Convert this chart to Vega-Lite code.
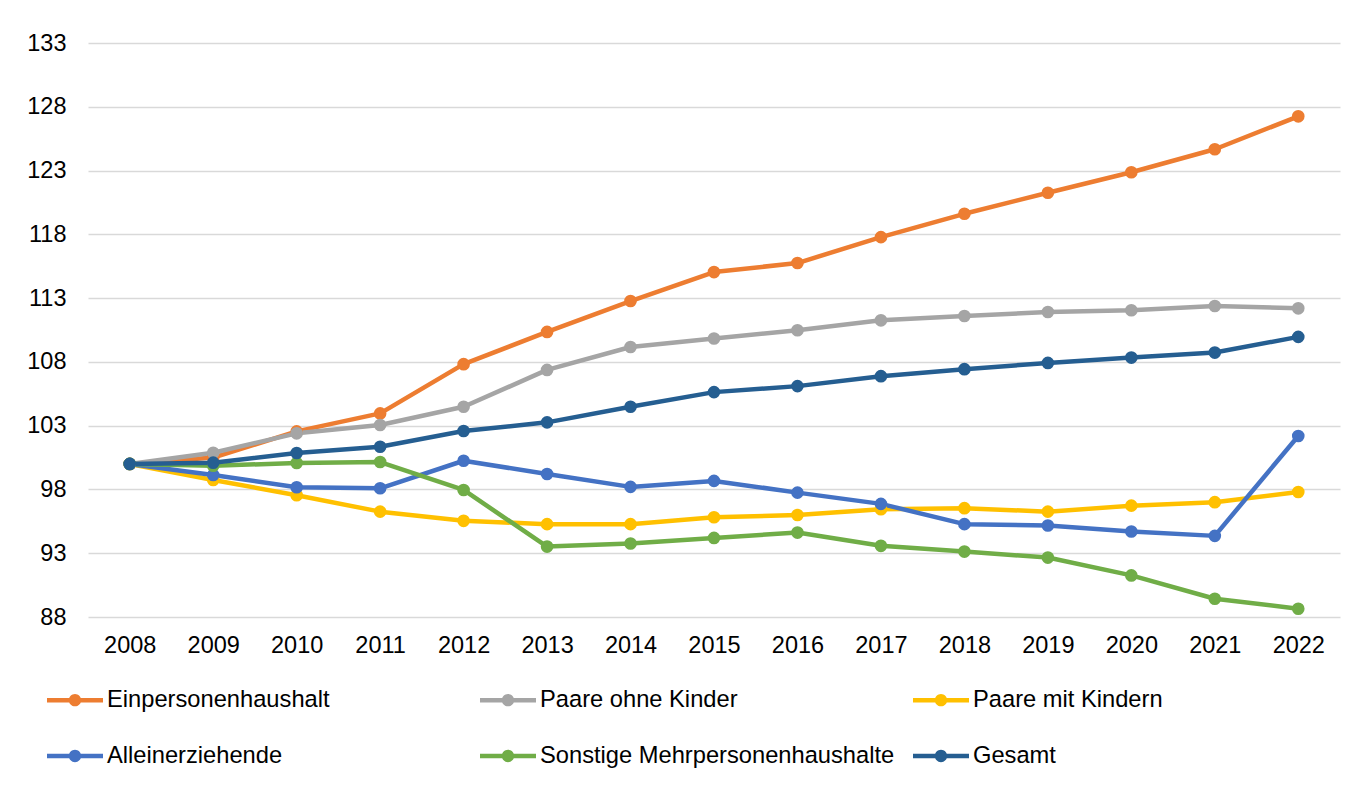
{
  "$schema": "https://vega.github.io/schema/vega-lite/v6.json",
  "width": 1252,
  "height": 574,
  "autosize": {"type": "none"},
  "padding": {"left": 88, "top": 43, "right": 18, "bottom": 182},
  "background": "white",
  "config": {
    "view": {"stroke": null},
    "font": "Liberation Sans"
  },
  "data": {
    "values": [
      {"year": "2008", "series": "Einpersonenhaushalt", "value": 100.0},
      {"year": "2009", "series": "Einpersonenhaushalt", "value": 100.5},
      {"year": "2010", "series": "Einpersonenhaushalt", "value": 102.55},
      {"year": "2011", "series": "Einpersonenhaushalt", "value": 103.96},
      {"year": "2012", "series": "Einpersonenhaushalt", "value": 107.82},
      {"year": "2013", "series": "Einpersonenhaushalt", "value": 110.35},
      {"year": "2014", "series": "Einpersonenhaushalt", "value": 112.77},
      {"year": "2015", "series": "Einpersonenhaushalt", "value": 115.04},
      {"year": "2016", "series": "Einpersonenhaushalt", "value": 115.75},
      {"year": "2017", "series": "Einpersonenhaushalt", "value": 117.78},
      {"year": "2018", "series": "Einpersonenhaushalt", "value": 119.61},
      {"year": "2019", "series": "Einpersonenhaushalt", "value": 121.26},
      {"year": "2020", "series": "Einpersonenhaushalt", "value": 122.87},
      {"year": "2021", "series": "Einpersonenhaushalt", "value": 124.67},
      {"year": "2022", "series": "Einpersonenhaushalt", "value": 127.25},
      {"year": "2008", "series": "Paare ohne Kinder", "value": 100.0},
      {"year": "2009", "series": "Paare ohne Kinder", "value": 100.88},
      {"year": "2010", "series": "Paare ohne Kinder", "value": 102.4},
      {"year": "2011", "series": "Paare ohne Kinder", "value": 103.05},
      {"year": "2012", "series": "Paare ohne Kinder", "value": 104.48},
      {"year": "2013", "series": "Paare ohne Kinder", "value": 107.37},
      {"year": "2014", "series": "Paare ohne Kinder", "value": 109.17},
      {"year": "2015", "series": "Paare ohne Kinder", "value": 109.83},
      {"year": "2016", "series": "Paare ohne Kinder", "value": 110.48},
      {"year": "2017", "series": "Paare ohne Kinder", "value": 111.26},
      {"year": "2018", "series": "Paare ohne Kinder", "value": 111.6},
      {"year": "2019", "series": "Paare ohne Kinder", "value": 111.91},
      {"year": "2020", "series": "Paare ohne Kinder", "value": 112.05},
      {"year": "2021", "series": "Paare ohne Kinder", "value": 112.38},
      {"year": "2022", "series": "Paare ohne Kinder", "value": 112.2},
      {"year": "2008", "series": "Paare mit Kindern", "value": 100.0},
      {"year": "2009", "series": "Paare mit Kindern", "value": 98.74},
      {"year": "2010", "series": "Paare mit Kindern", "value": 97.55},
      {"year": "2011", "series": "Paare mit Kindern", "value": 96.26},
      {"year": "2012", "series": "Paare mit Kindern", "value": 95.54},
      {"year": "2013", "series": "Paare mit Kindern", "value": 95.28},
      {"year": "2014", "series": "Paare mit Kindern", "value": 95.28},
      {"year": "2015", "series": "Paare mit Kindern", "value": 95.82},
      {"year": "2016", "series": "Paare mit Kindern", "value": 96.0},
      {"year": "2017", "series": "Paare mit Kindern", "value": 96.45},
      {"year": "2018", "series": "Paare mit Kindern", "value": 96.53},
      {"year": "2019", "series": "Paare mit Kindern", "value": 96.26},
      {"year": "2020", "series": "Paare mit Kindern", "value": 96.73},
      {"year": "2021", "series": "Paare mit Kindern", "value": 97.0},
      {"year": "2022", "series": "Paare mit Kindern", "value": 97.8},
      {"year": "2008", "series": "Alleinerziehende", "value": 100.0},
      {"year": "2009", "series": "Alleinerziehende", "value": 99.13},
      {"year": "2010", "series": "Alleinerziehende", "value": 98.17},
      {"year": "2011", "series": "Alleinerziehende", "value": 98.09},
      {"year": "2012", "series": "Alleinerziehende", "value": 100.25},
      {"year": "2013", "series": "Alleinerziehende", "value": 99.21},
      {"year": "2014", "series": "Alleinerziehende", "value": 98.2},
      {"year": "2015", "series": "Alleinerziehende", "value": 98.67},
      {"year": "2016", "series": "Alleinerziehende", "value": 97.75},
      {"year": "2017", "series": "Alleinerziehende", "value": 96.87},
      {"year": "2018", "series": "Alleinerziehende", "value": 95.28},
      {"year": "2019", "series": "Alleinerziehende", "value": 95.17},
      {"year": "2020", "series": "Alleinerziehende", "value": 94.7},
      {"year": "2021", "series": "Alleinerziehende", "value": 94.36},
      {"year": "2022", "series": "Alleinerziehende", "value": 102.19},
      {"year": "2008", "series": "Sonstige Mehrpersonenhaushalte", "value": 100.0},
      {"year": "2009", "series": "Sonstige Mehrpersonenhaushalte", "value": 99.86},
      {"year": "2010", "series": "Sonstige Mehrpersonenhaushalte", "value": 100.07},
      {"year": "2011", "series": "Sonstige Mehrpersonenhaushalte", "value": 100.15},
      {"year": "2012", "series": "Sonstige Mehrpersonenhaushalte", "value": 97.96},
      {"year": "2013", "series": "Sonstige Mehrpersonenhaushalte", "value": 93.52},
      {"year": "2014", "series": "Sonstige Mehrpersonenhaushalte", "value": 93.76},
      {"year": "2015", "series": "Sonstige Mehrpersonenhaushalte", "value": 94.2},
      {"year": "2016", "series": "Sonstige Mehrpersonenhaushalte", "value": 94.62},
      {"year": "2017", "series": "Sonstige Mehrpersonenhaushalte", "value": 93.58},
      {"year": "2018", "series": "Sonstige Mehrpersonenhaushalte", "value": 93.13},
      {"year": "2019", "series": "Sonstige Mehrpersonenhaushalte", "value": 92.66},
      {"year": "2020", "series": "Sonstige Mehrpersonenhaushalte", "value": 91.26},
      {"year": "2021", "series": "Sonstige Mehrpersonenhaushalte", "value": 89.43},
      {"year": "2022", "series": "Sonstige Mehrpersonenhaushalte", "value": 88.65},
      {"year": "2008", "series": "Gesamt", "value": 100.0},
      {"year": "2009", "series": "Gesamt", "value": 100.1},
      {"year": "2010", "series": "Gesamt", "value": 100.86},
      {"year": "2011", "series": "Gesamt", "value": 101.35},
      {"year": "2012", "series": "Gesamt", "value": 102.58},
      {"year": "2013", "series": "Gesamt", "value": 103.26},
      {"year": "2014", "series": "Gesamt", "value": 104.48},
      {"year": "2015", "series": "Gesamt", "value": 105.63},
      {"year": "2016", "series": "Gesamt", "value": 106.1},
      {"year": "2017", "series": "Gesamt", "value": 106.88},
      {"year": "2018", "series": "Gesamt", "value": 107.43},
      {"year": "2019", "series": "Gesamt", "value": 107.92},
      {"year": "2020", "series": "Gesamt", "value": 108.34},
      {"year": "2021", "series": "Gesamt", "value": 108.73},
      {"year": "2022", "series": "Gesamt", "value": 109.96}
    ]
  },
  "encoding": {
    "x": {
      "field": "year",
      "type": "ordinal",
      "scale": {"type": "point", "padding": 0.5},
      "axis": {
        "title": null,
        "labelAngle": 0,
        "labelFontSize": 23.5,
        "labelColor": "#000000",
        "labelPadding": 16,
        "labelBaseline": "top",
        "ticks": false,
        "domain": false,
        "grid": false
      }
    },
    "y": {
      "field": "value",
      "type": "quantitative",
      "scale": {"domain": [88, 133], "nice": false, "zero": false},
      "axis": {
        "title": null,
        "values": [88, 93, 98, 103, 108, 113, 118, 123, 128, 133],
        "labelFontSize": 23.5,
        "labelColor": "#000000",
        "labelPadding": 22,
        "ticks": false,
        "domain": false,
        "grid": true,
        "gridColor": "#d9d9d9",
        "gridWidth": 1.3
      }
    },
    "color": {
      "field": "series",
      "type": "nominal",
      "scale": {
        "domain": ["Einpersonenhaushalt", "Paare ohne Kinder", "Paare mit Kindern", "Alleinerziehende", "Sonstige Mehrpersonenhaushalte", "Gesamt"],
        "range": ["#ED7D31", "#A5A5A5", "#FFC000", "#4472C4", "#70AD47", "#255E91"]
      },
      "legend": {
        "title": null,
        "orient": "none",
        "legendX": -41,
        "legendY": 629,
        "direction": "horizontal",
        "columns": 3,
        "gridAlign": "all",
        "columnPadding": 18,
        "rowPadding": 16,
        "labelFontSize": 23.7,
        "labelColor": "#000000",
        "labelOffset": 4,
        "labelLimit": 500,
        "symbolType": "M -1 -0.08 L 1 -0.08 L 1 0.08 L -1 0.08 Z M 0.22 0 A 0.22 0.22 0 1 1 -0.22 0 A 0.22 0.22 0 1 1 0.22 0 Z",
        "symbolSize": 3136,
        "symbolStrokeWidth": 0,
        "symbolOpacity": 1,
        "encode": {
          "symbols": {
            "update": {
              "fill": {"scale": "color", "field": "value"},
              "strokeWidth": {"value": 0}
            }
          }
        }
      }
    }
  },
  "layer": [
    {
      "mark": {"type": "line", "strokeWidth": 4.5, "strokeCap": "round", "strokeJoin": "round"}
    },
    {
      "mark": {"type": "circle", "size": 160, "opacity": 1}
    }
  ]
}
